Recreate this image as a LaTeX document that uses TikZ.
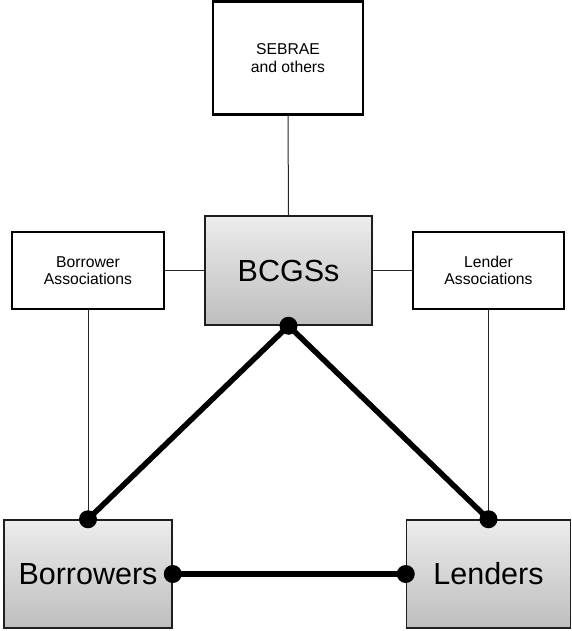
\documentclass[tikz,border=0pt]{standalone}
\usepackage{fontspec}
\setmainfont{Liberation Sans}
\usetikzlibrary{positioning}
\definecolor{BoxTop}{RGB}{236,236,236}
\definecolor{BoxBottom}{RGB}{190,190,190}
\definecolor{BoxLine}{RGB}{30,30,30}
\tikzset{
  party box/.style={
    draw=BoxLine,
    line width=1.5pt,
    top color=BoxTop,
    bottom color=BoxBottom,
    inner sep=0pt,
    font=\fontsize{30.5}{34}\selectfont
  },
  side box/.style={
    draw=black,
    line width=2.6pt,
    fill=white,
    align=center,
    inner sep=0pt,
    font=\fontsize{15.7}{17.5}\selectfont
  },
  thin link/.style={line width=1pt, black!85},
  thick link/.style={line width=5.5pt, black},
  link dot/.style={circle, fill=black, inner sep=0pt, minimum size=18pt}
}
\begin{document}
\begin{tikzpicture}[x=1pt, y=-1pt]
\useasboundingbox (0,0) rectangle (571,631);
% upper boxes
\node[side box, minimum width=150pt, minimum height=113pt] (sebrae) at (288,58) {SEBRAE\\and others};
\node[party box, minimum width=167pt, minimum height=109pt] (bcgs) at (288.5,270.5) {BCGSs};
\node[side box, minimum width=152pt, minimum height=77pt] (bassoc) at (88,270.5) {Borrower\\Associations};
\node[side box, minimum width=151pt, minimum height=77pt] (lassoc) at (488.5,270.5) {Lender\\Associations};
% lower boxes
\node[party box, minimum width=168pt, minimum height=108pt] (borrowers) at (88,574) {Borrowers};
\node[party box, minimum width=164pt, minimum height=108pt] (lenders) at (488.5,574) {Lenders};
% thin connectors
\draw[thin link] (sebrae.south) -- (bcgs.north);
\draw[thin link] (bassoc.east) -- (bcgs.west);
\draw[thin link] (bcgs.east) -- (lassoc.west);
\draw[thin link] (bassoc.south) -- (borrowers.north);
\draw[thin link] (lassoc.south) -- (lenders.north);
% thick connectors with dots
\draw[thick link] (bcgs.south) -- (borrowers.north);
\draw[thick link] (bcgs.south) -- (lenders.north);
\draw[thick link] (borrowers.east) -- (lenders.west);
\foreach \p in {bcgs.south, borrowers.north, borrowers.east, lenders.north, lenders.west}
  \node[link dot] at (\p) {};
\end{tikzpicture}
\end{document}
